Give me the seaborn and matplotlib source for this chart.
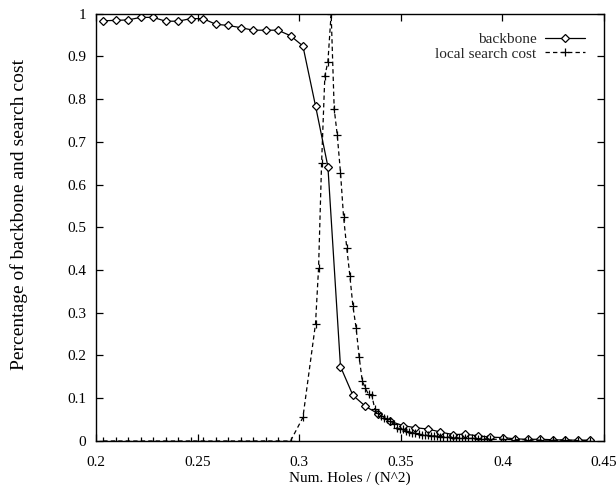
import pandas as pd
import seaborn as sns
import matplotlib.pyplot as plt
from matplotlib.ticker import MultipleLocator, FuncFormatter

# backbone fraction, one point per step
bb_x = [0.2035, 0.2096, 0.2158, 0.2219, 0.2281, 0.2342, 0.2404, 0.2465, 0.2527, 0.2588,
        0.2650, 0.2711, 0.2773, 0.2834, 0.2895, 0.2957, 0.3018, 0.3080, 0.3141, 0.3203,
        0.3264, 0.3326, 0.3387, 0.3449, 0.3510, 0.3572, 0.3633, 0.3695, 0.3756, 0.3817,
        0.3879, 0.3940, 0.4002, 0.4063, 0.4125, 0.4186, 0.4248, 0.4309, 0.4371, 0.4432]
bb_y = [0.983, 0.984, 0.985, 0.991, 0.991, 0.982, 0.982, 0.988, 0.988, 0.975,
        0.972, 0.967, 0.961, 0.961, 0.961, 0.948, 0.924, 0.784, 0.642, 0.174,
        0.107, 0.081, 0.064, 0.046, 0.036, 0.031, 0.028, 0.021, 0.015, 0.016,
        0.012, 0.009, 0.008, 0.005, 0.004, 0.004, 0.003, 0.002, 0.002, 0.002]

# local search cost, denser sampling around the transition
ls_x = [0.2035, 0.2096, 0.2158, 0.2219, 0.2281, 0.2342, 0.2404, 0.2465, 0.2527, 0.2588,
        0.2650, 0.2711, 0.2773, 0.2834, 0.2895, 0.2957, 0.3018,
        0.3080, 0.3095, 0.3110, 0.3126, 0.3141, 0.3157, 0.3172, 0.3187, 0.3203, 0.3218,
        0.3234, 0.3249, 0.3264, 0.3280, 0.3295, 0.3310, 0.3326, 0.3341, 0.3357, 0.3372,
        0.3387, 0.3403, 0.3418, 0.3434, 0.3449, 0.3464, 0.3480, 0.3495, 0.3510, 0.3526,
        0.3541, 0.3556, 0.3572, 0.3587, 0.3603, 0.3618, 0.3633, 0.3649, 0.3664, 0.3679,
        0.3695, 0.3710, 0.3725, 0.3741, 0.3756, 0.3772, 0.3787, 0.3802, 0.3817, 0.3833,
        0.3848, 0.3864, 0.3879, 0.3894, 0.3910, 0.3925, 0.3940,
        0.4002, 0.4063, 0.4125, 0.4186, 0.4248, 0.4309, 0.4371, 0.4432]
ls_y = [0.0, 0.0, 0.0, 0.0, 0.0, 0.0, 0.0, 0.0, 0.0, 0.0,
        0.0, 0.0, 0.0, 0.0, 0.0, 0.0, 0.055,
        0.274, 0.404, 0.651, 0.854, 0.887, 1.000, 0.777, 0.716, 0.628, 0.525,
        0.451, 0.387, 0.316, 0.264, 0.196, 0.141, 0.123, 0.109, 0.108, 0.074,
        0.066, 0.058, 0.053, 0.051, 0.047, 0.040, 0.031, 0.028, 0.027, 0.024,
        0.022, 0.019, 0.018, 0.016, 0.015, 0.014, 0.013, 0.012, 0.012, 0.011,
        0.010, 0.010, 0.009, 0.009, 0.008, 0.008, 0.007, 0.007, 0.007, 0.006,
        0.006, 0.006, 0.005, 0.005, 0.005, 0.005, 0.004,
        0.004, 0.003, 0.003, 0.002, 0.002, 0.002, 0.001, 0.001]

sns.set_theme(style="white")
plt.rcParams['font.family'] = ['Liberation Serif', 'DejaVu Serif']

bb = pd.DataFrame({"x": bb_x, "y": bb_y})
ls = pd.DataFrame({"x": ls_x, "y": ls_y})

fig = plt.figure(figsize=(6.16, 4.86), dpi=100)
ax = fig.add_axes([0.156, 0.0926, 0.8245, 0.8796])

sns.lineplot(data=bb, x="x", y="y", ax=ax, color="black", linewidth=0.9,
             marker="D", markersize=4.2, markerfacecolor="white",
             markeredgecolor="black", markeredgewidth=0.9,
             estimator=None, label="backbone")
sns.lineplot(data=ls, x="x", y="y", ax=ax, color="black", linewidth=0.9,
             linestyle=(0, (3.5, 2.5)), marker="+", markersize=5.5,
             markeredgecolor="black", markeredgewidth=0.9,
             estimator=None, label="local search cost")

ax.set_xlim(0.2, 0.45)
ax.set_ylim(0, 1)
ax.xaxis.set_major_locator(MultipleLocator(0.05))
ax.yaxis.set_major_locator(MultipleLocator(0.1))
fmt = FuncFormatter(lambda v, p: ("%.2f" % v).rstrip("0").rstrip("."))
ax.xaxis.set_major_formatter(fmt)
ax.yaxis.set_major_formatter(fmt)

for s in ax.spines.values():
    s.set_color("black")
    s.set_linewidth(1.0)
ax.tick_params(direction="in", length=5, width=0.9, color="black",
               top=True, right=True, bottom=True, left=True,
               labelsize=11, labelcolor="black")
ax.tick_params(axis="x", pad=10.5)
ax.tick_params(axis="y", pad=7)

ax.set_xlabel("Num. Holes / (N^2)", fontsize=11, color="black", labelpad=2)
ax.set_ylabel("Percentage of backbone and search cost", fontsize=14,
              color="black")
ax.yaxis.set_label_coords(-0.135, 0.53)

leg = ax.legend(loc="upper right", bbox_to_anchor=(0.975, 0.97), frameon=False,
                markerfirst=False, fontsize=11, handlelength=2.6,
                handletextpad=0.6, labelspacing=0.05, borderaxespad=0)

fig.savefig("out.png", dpi=100)
